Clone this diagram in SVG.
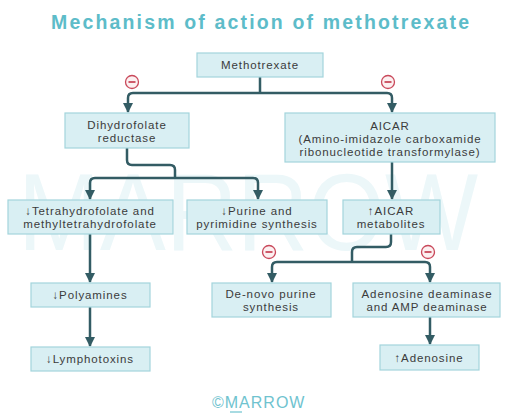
<svg xmlns="http://www.w3.org/2000/svg" width="520" height="418" viewBox="0 0 520 418">
<style>
.box{fill:#d9eff3;stroke:#a3d4dc;stroke-width:1.2}
.t{font-family:"Liberation Sans",Arial,sans-serif;font-size:11.5px;fill:#3b3b3b;text-anchor:middle;letter-spacing:0.9px}
.c{fill:none;stroke:#335c64;stroke-width:2.5;stroke-linejoin:round}
.inh circle{fill:#fcf0f1;stroke:#c9495b;stroke-width:1.3}
.inh line{stroke:#c9495b;stroke-width:1.8}
</style>
<defs>
<marker id="ah" markerUnits="userSpaceOnUse" markerWidth="11" markerHeight="11" refX="9" refY="5.5" orient="auto">
<path d="M0,0.5 L10,5.5 L0,10.5 z" fill="#335c64"/>
</marker>
</defs>
<rect width="520" height="418" fill="#ffffff"/>
<text x="248" y="250" font-family="'Liberation Sans',Arial,sans-serif" font-size="110" fill="#ecf7f9" text-anchor="middle" textLength="460" lengthAdjust="spacingAndGlyphs">MARROW</text>
<text x="260" y="29" font-family="'Liberation Sans',Arial,sans-serif" font-size="19.5" font-weight="bold" fill="#5dbcc9" text-anchor="middle" textLength="418" lengthAdjust="spacing">Mechanism of action of methotrexate</text>

<g id="connectors">
<path class="c" d="M260,77 V93 M133,93 H387 M133,93 Q128,93 128,98 V112" marker-end="url(#ah)"/>
<path class="c" d="M387,93 Q392,93 392,98 V112" marker-end="url(#ah)"/>
<path class="c" d="M127,148 V160 Q127,165 132,165 H170 Q175,165 175,170 V178"/>
<path class="c" d="M95,178 H253 M95,178 Q90,178 90,183 V199" marker-end="url(#ah)"/>
<path class="c" d="M253,178 Q258,178 258,183 V199" marker-end="url(#ah)"/>
<path class="c" d="M392,162 V199" marker-end="url(#ah)"/>
<path class="c" d="M90,234 V282" marker-end="url(#ah)"/>
<path class="c" d="M90,307 V346" marker-end="url(#ah)"/>
<path class="c" d="M391,234 V242 Q391,247 386,247 H357 Q352,247 352,252 V262"/>
<path class="c" d="M277,262 H425 M277,262 Q272,262 272,267 V282" marker-end="url(#ah)"/>
<path class="c" d="M425,262 Q430,262 430,267 V282" marker-end="url(#ah)"/>
<path class="c" d="M430,317 V344" marker-end="url(#ah)"/>
</g>

<g id="inhibitors" class="inh">
<circle cx="132" cy="82" r="6.5"/><line x1="128.5" y1="82" x2="135.5" y2="82"/>
<circle cx="388" cy="82" r="6.5"/><line x1="384.5" y1="82" x2="391.5" y2="82"/>
<circle cx="269" cy="252" r="6.5"/><line x1="265.5" y1="252" x2="272.5" y2="252"/>
<circle cx="428" cy="252" r="6.5"/><line x1="424.5" y1="252" x2="431.5" y2="252"/>
</g>

<g id="methotrexate">
<rect class="box" x="197" y="53" width="126" height="24"/>
<text class="t" x="260" y="69">Methotrexate</text>
</g>
<g id="dhfr">
<rect class="box" x="65" y="113" width="124" height="35"/>
<text class="t" x="127" y="129">Dihydrofolate</text>
<text class="t" x="127" y="142">reductase</text>
</g>
<g id="aicar">
<rect class="box" x="285" y="113" width="210" height="49"/>
<text class="t" x="390" y="129.5">AICAR</text>
<text class="t" x="390" y="142.5">(Amino-imidazole carboxamide</text>
<text class="t" x="390" y="155.5">ribonucleotide transformylase)</text>
</g>
<g id="thf">
<rect class="box" x="8" y="200" width="165" height="34"/>
<text class="t" x="90" y="215">↓Tetrahydrofolate and</text>
<text class="t" x="90" y="228">methyltetrahydrofolate</text>
</g>
<g id="purine">
<rect class="box" x="187" y="200" width="140" height="34"/>
<text class="t" x="257" y="215">↓Purine and</text>
<text class="t" x="257" y="228">pyrimidine synthesis</text>
</g>
<g id="aicar-metabolites">
<rect class="box" x="343" y="200" width="97" height="34"/>
<text class="t" x="391" y="215">↑AICAR</text>
<text class="t" x="391" y="228">metabolites</text>
</g>
<g id="polyamines">
<rect class="box" x="31" y="283" width="119" height="24"/>
<text class="t" x="90" y="299">↓Polyamines</text>
</g>
<g id="lymphotoxins">
<rect class="box" x="31" y="347" width="119" height="24"/>
<text class="t" x="90" y="363">↓Lymphotoxins</text>
</g>
<g id="denovo">
<rect class="box" x="212" y="283" width="119" height="34"/>
<text class="t" x="271" y="298">De-novo purine</text>
<text class="t" x="271" y="311">synthesis</text>
</g>
<g id="ada">
<rect class="box" x="353" y="283" width="147" height="34"/>
<text class="t" x="427" y="298">Adenosine deaminase</text>
<text class="t" x="427" y="311">and AMP deaminase</text>
</g>
<g id="adenosine">
<rect class="box" x="380" y="345" width="99" height="25"/>
<text class="t" x="429" y="361.5">↑Adenosine</text>
</g>

<text x="212" y="408" font-family="'Liberation Sans',Arial,sans-serif" font-size="16" fill="#6fc3cf" letter-spacing="1">©MARROW</text>
<line x1="230" y1="412" x2="242" y2="412" stroke="#6fc3cf" stroke-width="1.2"/>
</svg>
